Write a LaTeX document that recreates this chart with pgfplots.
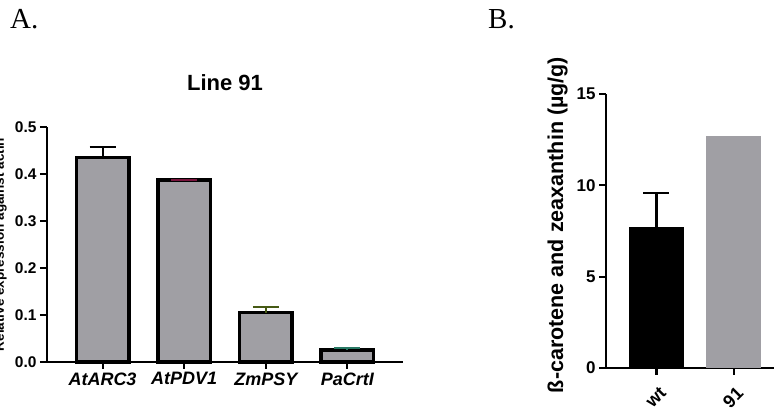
\documentclass[border=0pt]{standalone}
\usepackage{fontspec}
\setmainfont{Liberation Sans}
\newfontfamily\timesfont{Liberation Serif}
\usepackage{pgfplots}
\pgfplotsset{compat=1.18}

\definecolor{bargray}{RGB}{160,159,164}
\definecolor{errmaroon}{RGB}{120,20,60}
\definecolor{errolive}{RGB}{70,90,20}
\definecolor{errteal}{RGB}{40,120,100}

\pgfplotsset{
  prism/.style={
    scale only axis,
    axis lines=left,
    axis line style={-, line width=2pt},
    tick align=outside,
    major tick length=7pt,
    every tick/.style={line width=2pt, black},
    /pgf/number format/assume math mode=true,
    clip=false,
  },
}

\begin{document}
\begin{tikzpicture}

% panel labels
\node[anchor=base west, inner sep=0pt, font=\timesfont\fontsize{29}{29}\selectfont] at (10pt,385pt) {A.};
\node[anchor=base west, inner sep=0pt, font=\timesfont\fontsize{29}{29}\selectfont] at (488pt,385pt) {B.};

% A: expression, line 91
\begin{axis}[prism,
    at={(47pt,52pt)}, anchor=south west,
    width=356pt, height=235pt,
    xmin=-0.68, xmax=3.68, ymin=0, ymax=0.5,
    xtick={0,1,2,3},
    xticklabels={AtARC3,AtPDV1,ZmPSY,PaCrtI},
    xticklabel style={font=\fontsize{18}{18}\selectfont\bfseries\itshape},
    ytick={0,0.1,0.2,0.3,0.4,0.5},
    yticklabel style={/pgf/number format/.cd, fixed, fixed zerofill, precision=1, /tikz/.cd,
      font=\fontsize{15.5}{15.5}\selectfont\bfseries},
    title={Line 91},
    title style={font=\fontsize{22}{22}\selectfont\bfseries, anchor=base, at={(0.5,1)}, yshift=31pt},
    ylabel={Relative expression against actin},
    ylabel style={font=\fontsize{13.5}{13.5}\selectfont\bfseries, at={(axis description cs:-0.121,0.5)}, anchor=base},
  ]
  \addplot[ybar, bar width=0.643, bar shift=0pt, fill=bargray, draw=black, line width=3.5pt,
    error bars/.cd, y dir=plus, y explicit,
    error bar style={line width=2pt, black},
    error mark options={rotate=90, mark size=13pt, line width=2pt, black}]
    coordinates {(0,0.435) +- (0,0.023)};
  \addplot[ybar, bar width=0.643, bar shift=0pt, fill=bargray, draw=black, line width=3.5pt,
    error bars/.cd, y dir=plus, y explicit,
    error bar style={line width=2pt, errmaroon},
    error mark options={rotate=90, mark size=13pt, line width=2pt, errmaroon}]
    coordinates {(1,0.387) +- (0,0.001)};
  \addplot[ybar, bar width=0.643, bar shift=0pt, fill=bargray, draw=black, line width=3.5pt,
    error bars/.cd, y dir=plus, y explicit,
    error bar style={line width=2pt, errolive},
    error mark options={rotate=90, mark size=13pt, line width=2pt, errolive}]
    coordinates {(2,0.105) +- (0,0.011)};
  \addplot[ybar, bar width=0.643, bar shift=0pt, fill=bargray, draw=black, line width=3.5pt,
    error bars/.cd, y dir=plus, y explicit,
    error bar style={line width=2pt, errteal},
    error mark options={rotate=90, mark size=13pt, line width=2pt, errteal}]
    coordinates {(3,0.026) +- (0,0.004)};
\end{axis}

% B: carotenoid content
\begin{axis}[prism,
    at={(606pt,46pt)}, anchor=south west,
    width=174pt, height=274pt,
    axis line style={-, line width=2.3pt},
    every tick/.style={line width=2.3pt, black},
    xmin=-0.653, xmax=1.6, ymin=0, ymax=15,
    xtick={0,1},
    xticklabels={wt,91},
    xticklabel style={xshift=9pt, yshift=-13pt, rotate=45, anchor=east,
      font=\fontsize{18}{18}\selectfont\bfseries},
    ytick={0,5,10,15},
    yticklabel style={font=\fontsize{17}{17}\selectfont\bfseries},
    ylabel={ß-carotene and zeaxanthin (µg/g)},
    ylabel style={font=\fontsize{21.5}{21.5}\selectfont\bfseries, at={(axis description cs:-0.247,0.522)}, anchor=base},
  ]
  \addplot[ybar, bar width=0.714, bar shift=0pt, fill=black, draw=none,
    error bars/.cd, y dir=plus, y explicit,
    error bar style={line width=2.3pt, black},
    error mark options={rotate=90, mark size=13pt, line width=2.3pt, black}]
    coordinates {(0,7.72) +- (0,1.86)};
  \addplot[ybar, bar width=0.714, bar shift=0pt, fill=bargray, draw=none]
    coordinates {(1,12.7)};
\end{axis}

\pgfresetboundingbox
\useasboundingbox (0pt,0pt) rectangle (774pt,414pt);
\end{tikzpicture}
\end{document}
